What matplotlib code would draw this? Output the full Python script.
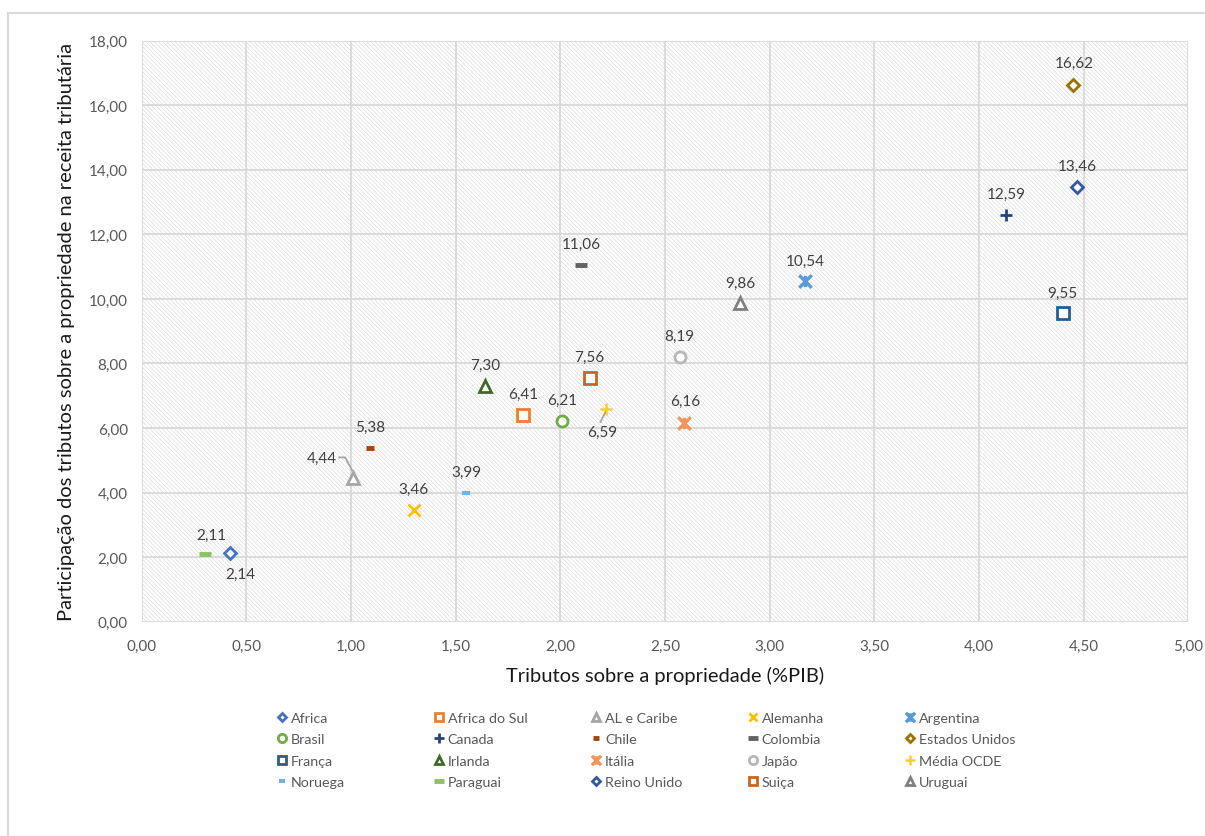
import matplotlib
matplotlib.use("Agg")
import matplotlib.pyplot as plt
from matplotlib.patches import Rectangle
from matplotlib.path import Path
from matplotlib.lines import Line2D
from matplotlib.transforms import IdentityTransform

plt.rcParams["font.family"] = ["Lato", "DejaVu Sans"]
plt.rcParams["hatch.linewidth"] = 0.5

countries = ["Africa", "Africa do Sul", "AL e Caribe", "Alemanha", "Argentina",
             "Brasil", "Canada", "Chile", "Colombia", "Estados Unidos",
             "França", "Irlanda", "Itália", "Japão", "Média OCDE",
             "Noruega", "Paraguai", "Reino Unido", "Suiça", "Uruguai"]
pib = [0.42, 1.82, 1.01, 1.30, 3.17,
       2.01, 4.13, 1.09, 2.10, 4.45,
       4.40, 1.64, 2.59, 2.57, 2.22,
       1.55, 0.30, 4.47, 2.14, 2.86]
share = [2.14, 6.41, 4.44, 3.46, 10.54,
         6.21, 12.59, 5.38, 11.06, 16.62,
         9.55, 7.30, 6.16, 8.19, 6.59,
         3.99, 2.11, 13.46, 7.56, 9.86]
colors = ["#4472C4", "#ED7D31", "#A5A5A5", "#FFC000", "#5B9BD5",
          "#70AD47", "#264478", "#9E480E", "#636363", "#997300",
          "#255E91", "#43682B", "#F1975A", "#B7B7B7", "#FFCD33",
          "#7CAFDD", "#8CC168", "#335AA1", "#D0621A", "#7F7F7F"]

# Excel-style "star": an X with a vertical bar through it
star = Path([(-1, -1), (1, 1), (-1, 1), (1, -1), (0, -0.9), (0, 0.9)],
            [Path.MOVETO, Path.LINETO, Path.MOVETO, Path.LINETO, Path.MOVETO, Path.LINETO])
dash = Path([(-1, 0), (1, 0)], [Path.MOVETO, Path.LINETO])

# marker, size, fill, edge width
styles = {
    "Africa": ("D", 6, False, 2), "Africa do Sul": ("s", 8, False, 2),
    "AL e Caribe": ("^", 8, False, 2), "Alemanha": ("x", 8, True, 2),
    "Argentina": (star, 9, True, 2.4), "Brasil": ("o", 8, False, 2),
    "Canada": ("+", 9, True, 2), "Chile": (dash, 6, True, 3.5),
    "Colombia": (dash, 9, True, 3.5), "Estados Unidos": ("D", 6, False, 2),
    "França": ("s", 8, False, 2), "Irlanda": ("^", 8, False, 2),
    "Itália": (star, 9, True, 2.4), "Japão": ("o", 8, False, 2),
    "Média OCDE": ("+", 9, True, 1.8), "Noruega": (dash, 6, True, 3),
    "Paraguai": (dash, 9, True, 3.5), "Reino Unido": ("D", 6, False, 2),
    "Suiça": ("s", 8, False, 2), "Uruguai": ("^", 8, False, 2),
}

# label offsets in pixels (dx, dy) relative to the point
offsets = {c: (0, 21) for c in countries}
offsets["Africa"] = (11, -21)
offsets["Paraguai"] = (7, 19)
offsets["AL e Caribe"] = (-31, 21)
offsets["Média OCDE"] = (-4, -23)
offsets["Itália"] = (1, 22)
offsets["Estados Unidos"] = (1, 22)

fig = plt.figure(figsize=(12.05, 8.37), dpi=100)
fig.patch.set_facecolor("white")
ax = fig.add_axes([0.1176, 0.2560, 0.8686, 0.6942])

ax.add_patch(Rectangle((0, 0), 1, 1, transform=ax.transAxes, facecolor="white",
                       edgecolor="#dcdcdc", hatch="\\" * 8, linewidth=0, zorder=0))
ax.set_facecolor("white")
ax.set_xlim(0, 5)
ax.set_ylim(0, 18)
ax.set_xticks([i * 0.5 for i in range(11)])
ax.set_yticks(range(0, 19, 2))
ax.set_xticklabels([f"{i * 0.5:.2f}".replace(".", ",") for i in range(11)])
ax.set_yticklabels([f"{v:.2f}".replace(".", ",") for v in range(0, 19, 2)])
ax.grid(True, color="#d9d9d9", lw=1.3, zorder=1)
ax.set_axisbelow(True)
for s in ax.spines.values():
    s.set_visible(False)
ax.tick_params(length=0, labelsize=11, labelcolor="#595959", pad=12)
ax.tick_params(axis="y", pad=10)

handles = []
for c, x, y, col in zip(countries, pib, share, colors):
    m, ms, filled, mew = styles[c]
    h, = ax.plot([x], [y], linestyle="none", marker=m, markersize=ms,
                 markeredgewidth=mew, markeredgecolor=col,
                 markerfacecolor=col if filled else "white", label=c, zorder=4)
    handles.append(h)
    dx, dy = offsets[c]
    txt = f"{y:.2f}".replace(".", ",")
    ax.annotate(txt, (x, y), xytext=(dx, dy), textcoords="offset pixels",
                ha="center", va="center", fontsize=11, color="#404040", zorder=5)

# leader lines for the two displaced labels (pixel offsets from the point)
leaders = {"AL e Caribe": [(-14, 21), (-8, 21), (-1, 8)],
           "Média OCDE": [(-6, -13), (-1, -3)]}
for c, pts in leaders.items():
    i = countries.index(c)
    px, py = ax.transData.transform((pib[i], share[i]))
    fig.add_artist(Line2D([px + a for a, b in pts], [py + b for a, b in pts],
                          transform=IdentityTransform(), color="#A5A5A5", lw=1.3, zorder=5))

ax.set_xlabel("Tributos sobre a propriedade (%PIB)", fontsize=14.5, color="#1a1a1a", labelpad=10)
ax.set_ylabel("Participação dos tributos sobre a propriedade na receita tributária",
              fontsize=14.5, color="#1a1a1a", labelpad=10)

# legend: five evenly spaced columns, filled row by row
ncol, nrow = 5, 4
for col in range(ncol):
    idx = [r * ncol + col for r in range(nrow)]
    leg = fig.legend([handles[i] for i in idx], [countries[i] for i in idx],
                     loc="upper left", bbox_to_anchor=((278 + 157 * col) / 1205, 1 - 713 / 837),
                     ncol=1, frameon=False, fontsize=10.3, handlelength=0.6,
                     handletextpad=0.3, labelspacing=0.65, markerscale=0.75,
                     borderpad=0, borderaxespad=0)
    for t in leg.get_texts():
        t.set_color("#595959")

# chart area border (only top and left edges are visible)
fig.add_artist(Line2D([8 / 1205, 1], [1 - 14 / 837] * 2, color="#d9d9d9", lw=1.5))
fig.add_artist(Line2D([8 / 1205] * 2, [0, 1 - 14 / 837], color="#d9d9d9", lw=1.5))

fig.savefig("out.png", dpi=100, facecolor="white")
